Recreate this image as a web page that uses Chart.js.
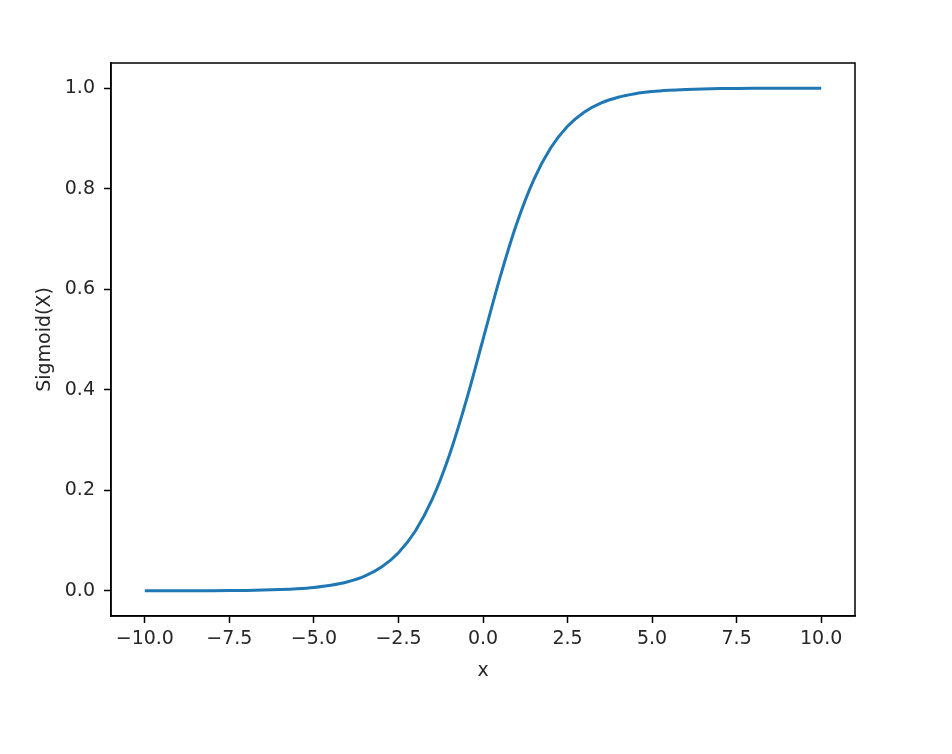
<!DOCTYPE html>
<html>
<head>
<meta charset="utf-8">
<script src="https://cdn.jsdelivr.net/npm/chart.js@4"></script>
<style>
  body { margin: 0; background: #fff; }
  #wrap { width: 952px; height: 754px; }
</style>
</head>
<body>
<div id="wrap"><canvas id="myChart" width="952" height="754"></canvas></div>
<script>
let xValues = [-10, -9.5, -9, -8.5, -8, -7.5, -7, -6.5, -6, -5.5, -5, -4.5, -4, -3.5, -3, -2.5, -2, -1.5, -1, -0.5,
  0, 0.5, 1, 1.5, 2, 2.5, 3, 3.5, 4, 4.5, 5, 5.5, 6, 6.5, 7, 7.5, 8, 8.5, 9, 9.5, 10];
let sigmoidValues = [0.00005, 0.00007, 0.00012, 0.0002, 0.00034, 0.00055, 0.0009, 0.0015, 0.0025, 0.0041, 0.0067, 0.0110, 0.0180, 0.0293, 0.0474, 0.0759, 0.1192, 0.1824, 0.2689, 0.3775,
  0.5, 0.6225, 0.7311, 0.8176, 0.8808, 0.9241, 0.9526, 0.9707, 0.9820, 0.9890, 0.9933, 0.9959, 0.9975, 0.9985, 0.9991, 0.99945, 0.99966, 0.9998, 0.99988, 0.99993, 0.99995];
let xTicks = [-10, -7.5, -5, -2.5, 0, 2.5, 5, 7.5, 10];
let yTicks = [0, 0.2, 0.4, 0.6, 0.8, 1.0];

const textColor = '#262626';
const fontFace = "'DejaVu Sans', sans-serif";

// full box around the plot area, like matplotlib spines
const frame = {
  id: 'frame',
  afterDatasetsDraw(chart) {
    const { ctx, chartArea: a } = chart;
    ctx.save();
    ctx.strokeStyle = '#000';
    ctx.lineWidth = 1.5;
    ctx.strokeRect(a.left, a.top, a.right - a.left, a.bottom - a.top);
    ctx.restore();
  }
};

function fmt(v) {
  return v.toFixed(1).replace('-', '\u2212');
}

function createChart() {
  const ctx = document.getElementById('myChart').getContext('2d');
  new Chart(ctx, {
    type: 'line',
    data: {
      datasets: [{
        data: xValues.map((x, i) => ({ x: x, y: sigmoidValues[i] })),
        borderColor: '#1f77b4',
        borderWidth: 3,
        pointRadius: 0,
        fill: false,
        cubicInterpolationMode: 'monotone'
      }]
    },
    options: {
      responsive: false,
      animation: false,
      layout: { padding: { top: 63, right: 97, left: 0, bottom: 0 } },
      plugins: { legend: { display: false }, tooltip: { enabled: false } },
      scales: {
        x: {
          type: 'linear',
          min: -11,
          max: 11,
          afterFit: s => { s.height = 138; },
          afterBuildTicks: s => { s.ticks = xTicks.map(v => ({ value: v })); },
          grid: { drawOnChartArea: false, drawTicks: true, tickLength: 7, tickWidth: 1.5, tickColor: '#000' },
          border: { display: true, color: '#000', width: 1.5 },
          ticks: { color: textColor, font: { family: fontFace, size: 19 }, padding: 5, maxRotation: 0, callback: fmt },
          title: { display: true, text: 'x', color: textColor, font: { family: fontFace, size: 19 }, padding: { top: 0, bottom: 72 } }
        },
        y: {
          min: -0.05,
          max: 1.05,
          afterFit: s => { s.width = 111; },
          afterBuildTicks: s => { s.ticks = yTicks.map(v => ({ value: v })); },
          grid: { drawOnChartArea: false, drawTicks: true, tickLength: 7, tickWidth: 1.5, tickColor: '#000' },
          border: { display: true, color: '#000', width: 1.5 },
          ticks: { color: textColor, font: { family: fontFace, size: 19 }, padding: 9, callback: fmt },
          title: { display: true, text: 'Sigmoid(X)', color: textColor, font: { family: fontFace, size: 19 }, padding: { top: 34 } }
        }
      }
    },
    plugins: [frame]
  });
}

window.onload = createChart;
</script>
</body>
</html>
